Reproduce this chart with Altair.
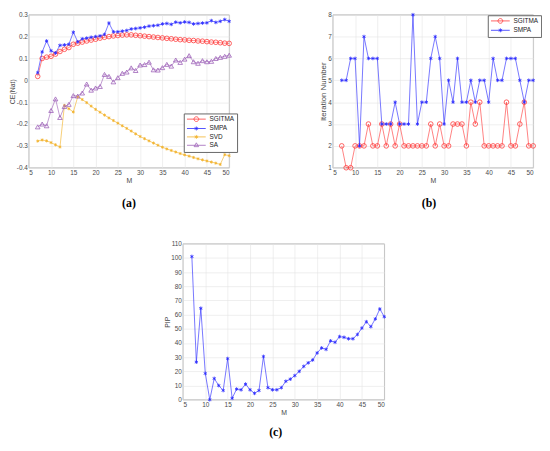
import altair as alt
import pandas as pd

M = list(range(7, 51))

ce_sgitma = [0.018, 0.100, 0.106, 0.110, 0.120, 0.132, 0.142, 0.150, 0.165, 0.170,
             0.175, 0.180, 0.184, 0.188, 0.193, 0.197, 0.200, 0.203, 0.205, 0.207,
             0.208, 0.208, 0.206, 0.204, 0.202, 0.200, 0.198, 0.196, 0.194, 0.192,
             0.190, 0.188, 0.186, 0.185, 0.183, 0.182, 0.180, 0.179, 0.177, 0.175,
             0.174, 0.172, 0.170, 0.169]
ce_smpa = [0.035, 0.130, 0.180, 0.135, 0.125, 0.160, 0.162, 0.165, 0.220, 0.176,
           0.190, 0.193, 0.197, 0.200, 0.203, 0.210, 0.262, 0.222, 0.222, 0.225,
           0.228, 0.235, 0.237, 0.240, 0.243, 0.248, 0.250, 0.252, 0.258, 0.260,
           0.256, 0.266, 0.263, 0.267, 0.265, 0.258, 0.260, 0.262, 0.263, 0.273,
           0.265, 0.270, 0.278, 0.270]
ce_svd = [-0.278, -0.273, -0.277, -0.285, -0.295, -0.305, -0.115, -0.130, -0.145, -0.075,
          -0.088, -0.102, -0.118, -0.133, -0.146, -0.159, -0.172, -0.184, -0.196, -0.208,
          -0.220, -0.232, -0.245, -0.257, -0.267, -0.277, -0.287, -0.297, -0.306, -0.314,
          -0.321, -0.328, -0.335, -0.341, -0.347, -0.353, -0.359, -0.364, -0.369, -0.374,
          -0.379, -0.385, -0.340, -0.345]
ce_sa = [-0.213, -0.200, -0.208, -0.138, -0.085, -0.170, -0.120, -0.110, -0.070, -0.072,
         -0.058, -0.017, -0.045, -0.035, -0.028, 0.027, 0.018, -0.007, 0.012, 0.032,
         0.038, 0.057, 0.045, 0.070, 0.072, 0.083, 0.048, 0.047, 0.058, 0.073,
         0.065, 0.093, 0.082, 0.097, 0.113, 0.085, 0.078, 0.090, 0.085, 0.087,
         0.100, 0.105, 0.110, 0.115]

it_sgitma = [2, 1, 1, 2, 2, 2, 3, 2, 2, 3,
             2, 3, 2, 3, 2, 2, 2, 2, 2, 2,
             3, 2, 3, 2, 2, 3, 3, 3, 2, 4,
             3, 4, 2, 2, 2, 2, 2, 4, 2, 2,
             3, 4, 2, 2]
it_smpa = [5, 5, 6, 6, 2, 7, 6, 6, 6, 3,
           3, 3, 4, 3, 3, 3, 8, 3, 4, 4,
           6, 7, 6, 3, 5, 4, 6, 4, 4, 5,
           4, 5, 5, 4, 6, 5, 5, 6, 6, 6,
           5, 4, 5, 5]

pip = [101, 26.5, 64.5, 18.5, 0, 15, 10, 6.5, 29, 1,
       7.5, 7, 11, 7, 4.5, 6.5, 30.5, 8.5, 7, 7,
       8.5, 13, 14.5, 17, 20, 23.5, 26, 28, 33, 36.5,
       35.5, 41.5, 40.5, 44.5, 44, 43, 43, 46, 50.5, 55,
       51.5, 57, 64, 58.5]

names_a = ["SGITMA", "SMPA", "SVD", "SA"]
names_b = ["SGITMA", "SMPA"]

RED = "#ff3b3b"
BLUE = "#2a2aff"
YEL = "#f2b22a"
PUR = "#9d62b8"

FONT = "Liberation Sans"
ASTER = "M0,-1V1M-0.87,-0.5L0.87,0.5M-0.87,0.5L0.87,-0.5"

# legend symbols: line with marker (custom paths, scale 2.5 px per unit)
LG_LINE = "M-1,0H6.6"
LG_CIRCLE = LG_LINE + "M3.76,0A0.96,0.96 0 1,1 1.84,0A0.96,0.96 0 1,1 3.76,0"
LG_ASTER = LG_LINE + "M2.8,-0.8V0.8M2.1,-0.4L3.5,0.4M2.1,0.4L3.5,-0.4"
LG_TRI = LG_LINE + "M2.8,-1L3.7,0.55L1.9,0.55Z"

x_enc = alt.X("M:Q", scale=alt.Scale(domain=[5, 50], nice=False),
              axis=alt.Axis(values=list(range(5, 51, 5)), title="M"))


def series(values, color, shape, size, filled, y_enc):
    df = pd.DataFrame({"M": M, "v": values})
    base = alt.Chart(df)
    line = base.mark_line(color=color, strokeWidth=0.8, opacity=0.8).encode(x=x_enc, y=y_enc)
    pts = base.mark_point(shape=shape, color=color, size=size, filled=filled,
                          strokeWidth=0.8, opacity=1).encode(x=x_enc, y=y_enc)
    return [line, pts]


def legend_layer(names, paths, colors, lx, ly):
    df = pd.DataFrame({"series": names})
    leg = alt.Legend(orient="none", legendX=lx, legendY=ly, title=None,
                     labelFont=FONT, labelFontSize=6.5, labelColor="#222222",
                     symbolSize=25, symbolStrokeWidth=0.8, symbolOpacity=1,
                     strokeColor="#666666", fillColor="white", padding=2.5,
                     rowPadding=0.5, labelOffset=17)
    return alt.Chart(df).mark_point(opacity=0, filled=False).encode(
        shape=alt.Shape("series:N", scale=alt.Scale(domain=names, range=paths), legend=leg),
        color=alt.Color("series:N", scale=alt.Scale(domain=names, range=colors), legend=leg),
    )


def caption(t, dx=0, offset=15):
    return alt.Title(t, orient="bottom", font="Liberation Serif", fontSize=12,
                     fontWeight="bold", color="black", offset=offset, anchor="middle", dx=dx)


LBL = "replace(datum.value == 0 ? '0' : format(datum.value, '.1f'), '\u2212', '-')"

# panel (a)
ya = alt.Y("v:Q", scale=alt.Scale(domain=[-0.4, 0.3], nice=False),
           axis=alt.Axis(values=[-0.4, -0.3, -0.2, -0.1, 0, 0.1, 0.2, 0.3],
                         labelExpr=LBL, title="CE(Nat)"))
layers_a = (series(ce_sgitma, RED, "circle", 22, False, ya)
            + series(ce_smpa, BLUE, ASTER, 14, False, ya)
            + series(ce_svd, YEL, ASTER, 10, False, ya)
            + series(ce_sa, PUR, "triangle-up", 22, False, ya))
layers_a.append(legend_layer(names_a, [LG_CIRCLE, LG_ASTER, LG_ASTER, LG_TRI],
                             [RED, BLUE, YEL, PUR], 157, 100))
panel_a = alt.layer(*layers_a).resolve_scale(color="independent", shape="independent").properties(
    width=203, height=155, title=caption("(a)", 0))

# panel (b)
yb = alt.Y("v:Q", scale=alt.Scale(domain=[1, 8], nice=False),
           axis=alt.Axis(values=list(range(1, 9)), title="Iteration Number", titleFontSize=8))
layers_b = (series(it_sgitma, RED, "circle", 22, False, yb)
            + series(it_smpa, BLUE, ASTER, 14, False, yb))
layers_b.append(legend_layer(names_b, [LG_CIRCLE, LG_ASTER], [RED, BLUE], 157, 0.5))
panel_b = alt.layer(*layers_b).resolve_scale(color="independent", shape="independent").properties(
    width=203, height=155, title=caption("(b)", -4))

# panel (c)
yc = alt.Y("v:Q", scale=alt.Scale(domain=[0, 110], nice=False),
           axis=alt.Axis(values=list(range(0, 111, 10)), title="PIP"))
panel_c = alt.layer(*series(pip, BLUE, ASTER, 14, False, yc)).properties(
    width=204, height=158, title=caption("(c)", -8, 12))

row1 = alt.hconcat(panel_a, panel_b, spacing=105, bounds="flush")
chart = alt.vconcat(row1, panel_c, spacing=31, center=True).properties(
    padding=0
).configure_view(
    stroke="#8c8c8c", strokeWidth=0.7
).configure_axis(
    grid=True, gridColor="#e4e4e4", gridWidth=0.6, domain=False, ticks=False,
    labelFont=FONT, labelFontSize=6.5, labelColor="#4a4a4a", labelPadding=1.5,
    titleFont=FONT, titleFontSize=7, titleFontWeight="normal", titleColor="#4a4a4a",
    titlePadding=0.5
)

chart.save("out.html", embed_options={"renderer": "svg", "actions": False})
